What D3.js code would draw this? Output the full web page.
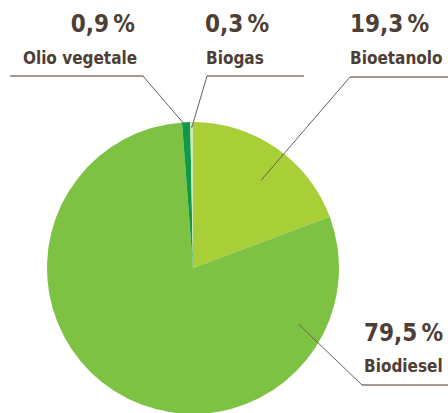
<!DOCTYPE html>
<html lang="it">
<head>
  <meta charset="UTF-8">
  <title>Biocarburanti</title>
  <script src="https://d3js.org/d3.v7.min.js"></script>
  <style>
    body { margin: 0; background: #fff; }
    svg text { font-family: "DejaVu Sans Condensed", "DejaVu Sans", sans-serif; font-stretch: condensed; font-weight: 700; fill: #4d3e36; }
  </style>
</head>
<body>
  <div id="chart"></div>
  <script>
    // data, clockwise from 12 o'clock
    const categories = ["Bioetanolo", "Biodiesel", "Olio vegetale", "Biogas"];
    const values = [19.3, 79.5, 0.9, 0.3];
    const valueLabels = ["19,3\u2009%", "79,5\u2009%", "0,9\u2009%", "0,3\u2009%"];
    const colors = ["#a8cf38", "#7dc242", "#0f994b", "#d5e9b3"];

    const width = 448, height = 413;
    const cx = 193, cy = 268, r = 146;

    const svg = d3.select("#chart").append("svg")
      .attr("width", width).attr("height", height);

    const pie = d3.pie().sort(null).value(d => d.v);
    const arcs = pie(categories.map((c, i) => ({c, v: values[i], i})));
    const arc = d3.arc().innerRadius(0).outerRadius(r);

    const g = svg.append("g").attr("transform", `translate(${cx},${cy})`);
    g.selectAll("path").data(arcs).join("path")
      .attr("d", arc)
      .attr("fill", d => colors[d.data.i]);

    // label layout
    const layout = {
      "Olio vegetale": {tx: 80, anchor: "middle", px: 135, pa: "end", ty: 32, ly: 64, shelf: [10, 143], elbow: [143, 76], rf: 0.97},
      "Biogas":        {tx: 206, anchor: "start", px: 205, pa: "start", ty: 32, ly: 64, shelf: [207, 304], elbow: [207, 76], rf: 0.96},
      "Bioetanolo":    {tx: 350, anchor: "start", px: 350, pa: "start", ty: 32, ly: 64, shelf: [350, 448], elbow: [350, 77], rf: 0.76},
      "Biodiesel":     {tx: 364, anchor: "start", px: 364, pa: "start", ty: 341, ly: 372, shelf: [362, 448], elbow: [362, 385], rf: 0.82}
    };

    const pointAt = (a, rr) => [cx + Math.sin(a) * rr, cy - Math.cos(a) * rr];

    arcs.forEach(d => {
      const L = layout[d.data.c];
      let a = (d.startAngle + d.endAngle) / 2;
      if (d.data.c === "Biodiesel") a = 2.06;
      if (d.data.c === "Bioetanolo") a = 0.66;
      const p = pointAt(a, r * L.rf);

      svg.append("line")
        .attr("x1", L.shelf[0]).attr("x2", L.shelf[1])
        .attr("y1", L.elbow[1]).attr("y2", L.elbow[1])
        .attr("stroke", "#a39a95").attr("stroke-width", 2);

      svg.append("line")
        .attr("x1", L.elbow[0]).attr("y1", L.elbow[1])
        .attr("x2", p[0]).attr("y2", p[1])
        .attr("stroke", "#6b5e57").attr("stroke-width", 1);

      svg.append("text")
        .attr("x", L.px).attr("y", L.ty)
        .attr("text-anchor", L.pa)
        .attr("font-size", 24)
        .text(valueLabels[d.data.i]);

      svg.append("text")
        .attr("x", L.tx).attr("y", L.ly)
        .attr("text-anchor", L.anchor)
        .attr("font-size", 17)
        .text(d.data.c);
    });
  </script>
</body>
</html>
